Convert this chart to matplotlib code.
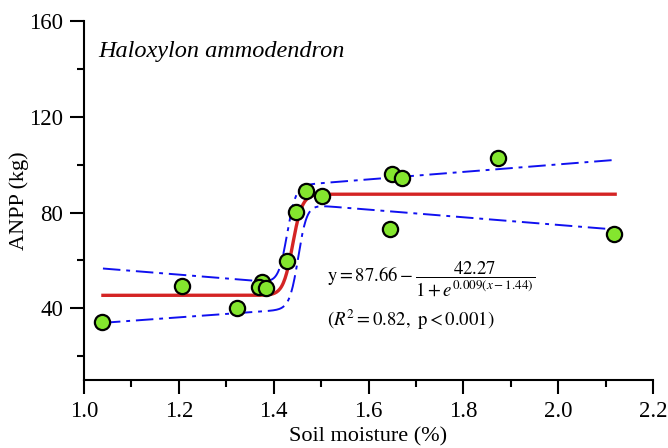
import numpy as np
import matplotlib
matplotlib.use("Agg")
import matplotlib.pyplot as plt
from matplotlib.ticker import MultipleLocator

plt.rcParams['font.family'] = ['Liberation Serif', 'DejaVu Serif']
plt.rcParams['mathtext.fontset'] = 'stix'

# Observed data
soil_moisture = [1.037, 1.206, 1.323, 1.375, 1.370, 1.384, 1.429, 1.448, 1.469,
                 1.501, 1.650, 1.670, 1.872, 1.645, 2.118]
anpp = [34.3, 49.2, 39.9, 51.0, 48.9, 48.5, 59.6, 80.3, 88.9,
        86.9, 96.3, 94.6, 102.6, 73.3, 71.2]

# Fitted logistic curve parameters (as drawn)
fit_upper = 87.66
fit_amp = 42.27
fit_center = 1.44
fit_k = 100.0
x_range = [1.04, 2.12]

# Confidence band segments: (x, y) anchors of the left and right limbs
upper_left = [(1.04, 56.6), (1.40, 50.8)]
upper_right = [(1.45, 91.5), (2.12, 102.0)]
upper_center = 1.428
lower_left = [(1.04, 33.9), (1.40, 39.0)]
lower_right = [(1.47, 83.3), (2.12, 72.9)]
lower_center = 1.452
band_k = 110.0

xticks = [1.0, 1.2, 1.4, 1.6, 1.8, 2.0, 2.2]
yticks = [40, 80, 120, 160]


def seg(anchors, x):
    (x0, y0), (x1, y1) = anchors
    return y0 + (y1 - y0) * (x - x0) / (x1 - x0)


def band(left, right, c, x):
    s = 1.0 / (1.0 + np.exp(-band_k * (x - c)))
    return seg(left, x) * (1 - s) + seg(right, x) * s


fig = plt.figure(figsize=(6.68, 4.48), dpi=100)
ax = fig.add_axes([0.1257, 0.1518, 0.852, 0.801])

xs = np.linspace(x_range[0], x_range[1], 600)
fit = fit_upper - fit_amp / (1 + np.exp(fit_k * (xs - fit_center)))

ax.plot(xs, band(upper_left, upper_right, upper_center, xs), color='#1010F0',
        lw=1.4, dashes=(9, 3, 2, 3), zorder=2)
ax.plot(xs, band(lower_left, lower_right, lower_center, xs), color='#1010F0',
        lw=1.4, dashes=(9, 3, 2, 3), zorder=2)
ax.plot(xs, fit, color='#D42424', lw=2.4, zorder=3)
ax.scatter(soil_moisture, anpp, s=120, c='#84E62E', edgecolors='black',
           linewidths=1.6, zorder=4)

ax.set_xlim(1.0, 2.2)
ax.set_ylim(10, 160)
ax.set_xticks(xticks)
ax.set_yticks(yticks)
ax.xaxis.set_minor_locator(MultipleLocator(0.1))
ax.yaxis.set_minor_locator(MultipleLocator(20))
ax.set_xticklabels([f"{v:.1f}" for v in xticks])
ax.set_yticklabels([str(v) for v in yticks])
for s in ['top', 'right']:
    ax.spines[s].set_visible(False)
for s in ['left', 'bottom']:
    ax.spines[s].set_linewidth(1.5)
ax.tick_params(which='major', direction='out', length=10, width=1.5,
               labelsize=16.5, pad=5)
ax.tick_params(which='minor', direction='out', length=5, width=1.5)

ax.set_xlabel('Soil moisture (%)', fontsize=16, labelpad=4)
ax.set_ylabel('ANPP (kg)', fontsize=16, labelpad=0)

ax.text(0.025, 0.915, 'Haloxylon ammodendron', transform=ax.transAxes,
        fontsize=17.5, style='italic', ha='left', va='center')

ax.text(1.512, 52.2,
        r'$\mathrm{y}=87.66-\dfrac{42.27}{1+e^{0.009(x-1.44)}}$',
        fontsize=13.5, ha='left', va='center')
ax.text(1.512, 35.0, r'$(R^2=0.82,\ \mathrm{p}<0.001)$',
        fontsize=13.5, ha='left', va='center')

fig.savefig('out.png', dpi=100)
